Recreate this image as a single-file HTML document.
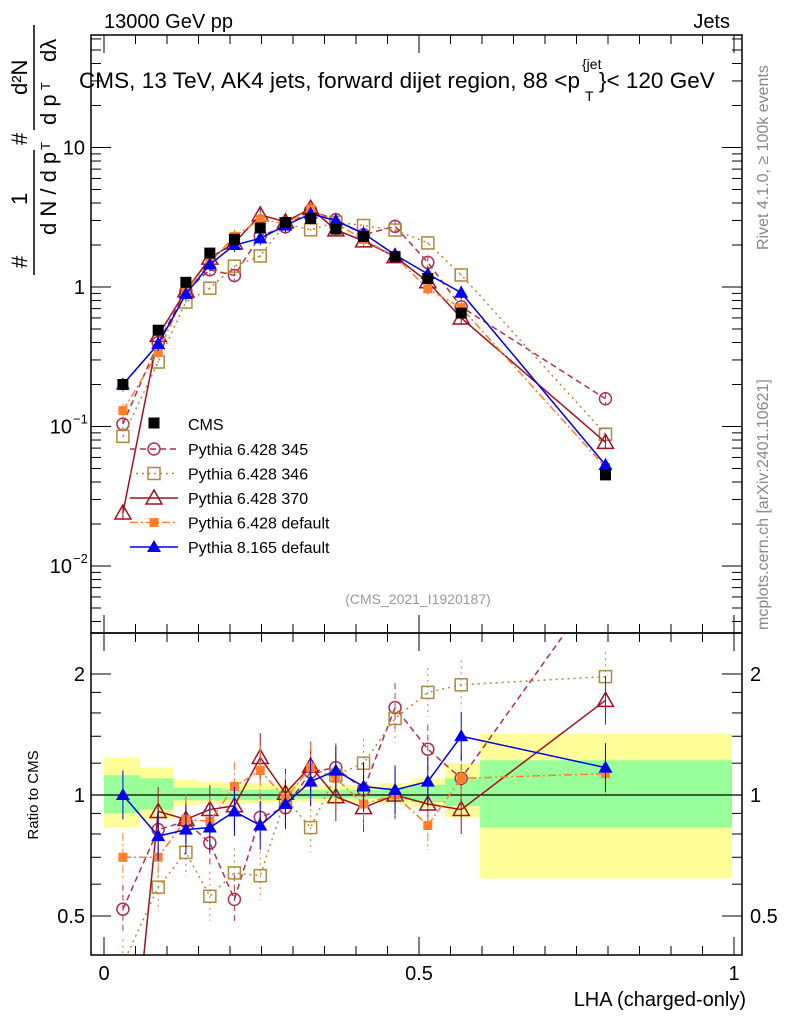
<!DOCTYPE html>
<html><head><meta charset="utf-8"><style>
html,body{margin:0;background:#fff;width:786px;height:1024px;overflow:hidden}
svg{display:block}
svg text{font-family:"Liberation Sans",sans-serif}
</style></head><body>
<svg id="c" width="786" height="1024" xmlns="http://www.w3.org/2000/svg"></svg>
<script>
const xs=[0.03,0.086,0.13,0.168,0.207,0.248,0.288,0.328,0.368,0.412,0.462,0.514,0.567,0.796];
const binEdges=[0,0.057,0.11,0.148,0.188,0.228,0.268,0.307,0.347,0.387,0.438,0.487,0.541,0.597,0.997];
const cms=[0.2,0.49,1.08,1.75,2.2,2.65,2.9,3.1,2.6,2.3,1.65,1.15,0.65,0.045];
const p345=[0.104,0.40,0.93,1.33,1.21,2.33,2.7,3.53,3.04,2.37,2.72,1.5,0.72,0.158];
const p346=[0.085,0.29,0.78,0.98,1.41,1.67,2.84,2.57,2.91,2.76,2.56,2.07,1.22,0.088];
const p370=[0.024,0.45,0.94,1.61,2.07,3.29,2.93,3.66,2.57,2.14,1.65,1.09,0.6,0.077];
const p6d=[0.13,0.34,0.94,1.5,2.31,3.05,2.84,3.63,2.86,2.19,1.65,0.97,0.71,0.051];
const p8=[0.2,0.39,0.89,1.45,2.0,2.23,2.76,3.35,2.99,2.42,1.7,1.24,0.91,0.053];
const r345=[0.52,0.82,0.86,0.76,0.55,0.88,0.93,1.14,1.17,1.03,1.65,1.3,1.1,3.5];
const r346=[0.38,0.59,0.72,0.56,0.64,0.63,0.98,0.83,1.12,1.2,1.55,1.8,1.88,1.97];
const r370=[0.12,0.91,0.87,0.92,0.94,1.24,1.01,1.18,0.99,0.93,1.0,0.95,0.92,1.72];
const r6d=[0.7,0.7,0.87,0.86,1.05,1.15,0.98,1.17,1.1,0.95,1.0,0.84,1.1,1.13];
const r8=[1.0,0.79,0.82,0.83,0.91,0.84,0.95,1.08,1.15,1.05,1.03,1.08,1.4,1.17];
const yelLo=[0.83,0.87,0.94,0.95,0.95,0.95,0.96,0.96,0.96,0.96,0.95,0.93,0.88,0.62];
const yelHi=[1.24,1.17,1.09,1.08,1.07,1.07,1.06,1.06,1.06,1.06,1.07,1.1,1.2,1.42];
const grnLo=[0.9,0.92,0.97,0.97,0.97,0.97,0.98,0.98,0.98,0.98,0.97,0.96,0.94,0.83];
const grnHi=[1.12,1.1,1.04,1.04,1.03,1.03,1.03,1.03,1.03,1.03,1.04,1.06,1.1,1.22];
const xTicks=[0,0.5,1];
const NS="http://www.w3.org/2000/svg";
const svg=document.getElementById('c');
const X=v=>104+630*v;
const Y=v=>287-139.5*Math.log10(v);
const R=v=>795-402*Math.log10(v);
function el(t,a,p){const e=document.createElementNS(NS,t);for(const k in a)e.setAttribute(k,a[k]);(p||svg).appendChild(e);return e;}
function txt(s,x,y,a,p){const e=el('text',Object.assign({x:x,y:y,'font-size':20},a||{}),p);e.textContent=s;return e;}
const defs=el('defs',{});
const c1=el('clipPath',{id:'cm'},defs);el('rect',{x:91,y:35,width:651,height:598},c1);
const c2=el('clipPath',{id:'cr'},defs);el('rect',{x:91,y:633,width:651,height:322},c2);
const gB=el('g',{'clip-path':'url(#cr)'});


for(let i=0;i<xs.length;i++){
 const r1=el('rect',{x:X(binEdges[i]),y:R(yelHi[i]),width:X(binEdges[i+1])-X(binEdges[i]),height:R(yelLo[i])-R(yelHi[i]),fill:'#ffff99'},gB);
 
 
 const r2=el('rect',{x:X(binEdges[i]),y:R(grnHi[i]),width:X(binEdges[i+1])-X(binEdges[i]),height:R(grnLo[i])-R(grnHi[i]),fill:'#99ff99'},gB);
 
 
}
el('line',{x1:91,x2:742,y1:R(1),y2:R(1),stroke:'#000','stroke-width':1.2});
const series=[
 {n:'pythia-6428-345',v:p345,r:r345,c:'#b03050',d:'6,4',m:'circle',lab:'Pythia 6.428 345'},
 {n:'pythia-6428-346',v:p346,r:r346,c:'#b08840',d:'2,4',m:'osq',lab:'Pythia 6.428 346'},
 {n:'pythia-6428-370',v:p370,r:r370,c:'#a01020',d:'',m:'otri',lab:'Pythia 6.428 370'},
 {n:'pythia-6428-default',v:p6d,r:r6d,c:'#ff7f2a',d:'8,3,2,3',m:'fsq',lab:'Pythia 6.428 default'},
 {n:'pythia-8165-default',v:p8,r:r8,c:'#0000ee',d:'',m:'ftri',lab:'Pythia 8.165 default'}];
function marker(g,m,x,y,c){
 if(m=='circle')return el('circle',{cx:x,cy:y,r:6,fill:'none',stroke:c,'stroke-width':1.5},g);
 if(m=='osq')return el('rect',{x:x-6,y:y-6,width:12,height:12,fill:'none',stroke:c,'stroke-width':1.5},g);
 if(m=='fsq')return el('rect',{x:x-4.5,y:y-4.5,width:9,height:9,fill:c},g);
 if(m=='bsq')return el('rect',{x:x-5.5,y:y-5.5,width:11,height:11,fill:c},g);
 if(m=='otri')return el('polygon',{points:`${x},${y-8} ${x-8},${y+6} ${x+8},${y+6}`,fill:'none',stroke:c,'stroke-width':1.5},g);
 return el('polygon',{points:`${x},${y-7} ${x-7},${y+5} ${x+7},${y+5}`,fill:c},g);
}
for(const s of series){
 const g=el('g',{'clip-path':'url(#cm)'});
 
 
 el('polyline',{points:xs.map((x,i)=>X(x)+','+Y(s.v[i])).join(' '),fill:'none',stroke:s.c,'stroke-width':1.5,'stroke-dasharray':s.d},g);
 xs.forEach((x,i)=>{el('line',{x1:X(x),x2:X(x),y1:Y(s.v[i]*1.12),y2:Y(s.v[i]/1.12),stroke:s.c,'stroke-dasharray':s.d},g);marker(g,s.m,X(x),Y(s.v[i]),s.c);});
 const g2=el('g',{'clip-path':'url(#cr)'});
 
 
 el('polyline',{points:xs.map((x,i)=>X(x)+','+R(s.r[i])).join(' '),fill:'none',stroke:s.c,'stroke-width':1.5,'stroke-dasharray':s.d},g2);
 xs.forEach((x,i)=>{el('line',{x1:X(x),x2:X(x),y1:R(s.r[i]*1.15),y2:R(s.r[i]/1.15),stroke:s.c,'stroke-dasharray':s.d},g2);marker(g2,s.m,X(x),R(s.r[i]),s.c);});
}
const gc=el('g',{'clip-path':'url(#cm)'});


xs.forEach((x,i)=>marker(gc,'bsq',X(x),Y(cms[i]),'#000'));
el('rect',{x:91,y:35,width:651,height:598,fill:'none',stroke:'#000','stroke-width':1.5});
el('rect',{x:91,y:633,width:651,height:322,fill:'none',stroke:'#000','stroke-width':1.5});
for(let d=-3;d<=1;d++)for(let k=1;k<10;k++){const v=k*Math.pow(10,d);const y=Y(v);if(y<35||y>633)continue;const L=k==1?20:10;
 el('line',{x1:91,x2:91+L,y1:y,y2:y,stroke:'#000'});el('line',{x1:742,x2:742-L,y1:y,y2:y,stroke:'#000'});}
[[10,'10'],[1,'1'],[0.1,'10'],[0.01,'10']].forEach(([v,s],i)=>{const y=Y(v);
 if(i<2)txt(s,85,y+7,{'text-anchor':'end'});else{txt(s,72,y+7,{'text-anchor':'end'});txt(i==2?'−1':'−2',73,y-3,{'font-size':13});}});
[0.5,0.6,0.7,0.8,0.9,1,1.2,1.4,1.6,1.8,2].forEach(v=>{const y=R(v);const L=(v==0.5||v==1||v==2)?20:10;
 el('line',{x1:91,x2:91+L,y1:y,y2:y,stroke:'#000'});el('line',{x1:742,x2:742-L,y1:y,y2:y,stroke:'#000'});});
[[2,'2'],[1,'1'],[0.5,'0.5']].forEach(([v,s])=>{txt(s,85,R(v)+7,{'text-anchor':'end'});txt(s,750,R(v)+7);});
for(let i=0;i<=20;i++){const x=X(i*0.05);const L=i%10==0?18:9;
 el('line',{x1:x,x2:x,y1:955,y2:955-L,stroke:'#000'});el('line',{x1:x,x2:x,y1:633,y2:633-L,stroke:'#000'});el('line',{x1:x,x2:x,y1:35,y2:35+L,stroke:'#000'});el('line',{x1:x,x2:x,y1:633,y2:633+L,stroke:'#000'});}
xTicks.forEach(v=>txt(String(v),X(v),980,{'text-anchor':'middle'}));
txt('13000 GeV pp',104,28);
txt('Jets',730,28,{'text-anchor':'end'});
txt('CMS, 13 TeV, AK4 jets, forward dijet region, 88 <p',79,88,{'font-size':22.5,textLength:501});
txt('{jet',582,69,{'font-size':14});txt('T',585,101,{'font-size':14});
txt('}< 120 GeV',599,88,{'font-size':22.5});
txt('LHA (charged-only)',746,1006,{'text-anchor':'end'});
txt('(CMS_2021_I1920187)',418,604,{'text-anchor':'middle','font-size':14,fill:'#999'});
txt('Ratio to CMS',0,0,{transform:'translate(38,795) rotate(-90)','text-anchor':'middle','font-size':15});
txt('mcplots.cern.ch [arXiv:2401.10621]',0,0,{transform:'translate(768,630) rotate(-90)','font-size':16,fill:'#888'});
txt('Rivet 4.1.0, ≥ 100k events',0,0,{transform:'translate(768,250) rotate(-90)','font-size':16,fill:'#888'});
// y-axis title
const yt=el('g',{});


txt('#',0,0,{transform:'translate(27,268) rotate(-90)','font-size':22},yt);
txt('1',0,0,{transform:'translate(27,205) rotate(-90)','font-size':22},yt);
el('line',{x1:34,x2:34,y1:150,y2:275,stroke:'#000','stroke-width':1.5},yt);
txt('d N / d p',0,0,{transform:'translate(56,235) rotate(-90)','font-size':22},yt);
txt('T',0,0,{transform:'translate(50,150) rotate(-90)','font-size':13},yt);
txt('#',0,0,{transform:'translate(27,145) rotate(-90)','font-size':22},yt);
txt('d²N',0,0,{transform:'translate(27,95) rotate(-90)','font-size':22},yt);
el('line',{x1:34,x2:34,y1:25,y2:130,stroke:'#000','stroke-width':1.5},yt);
txt('d p',0,0,{transform:'translate(56,125) rotate(-90)','font-size':22},yt);
txt('T',0,0,{transform:'translate(50,90) rotate(-90)','font-size':13},yt);
txt('dλ',0,0,{transform:'translate(56,62) rotate(-90)','font-size':22},yt);
const lg=el('g',{});


marker(lg,'bsq',154,423,'#000');txt('CMS',188,430,{'font-size':16},lg);
series.forEach((s,i)=>{const y=449+i*24.5;
 el('line',{x1:130,x2:178,y1:y,y2:y,stroke:s.c,'stroke-width':1.5,'stroke-dasharray':s.d},lg);
 marker(lg,s.m,154,y,s.c);txt(s.lab,188,y+6,{'font-size':16},lg);});
</script>
</body></html>
